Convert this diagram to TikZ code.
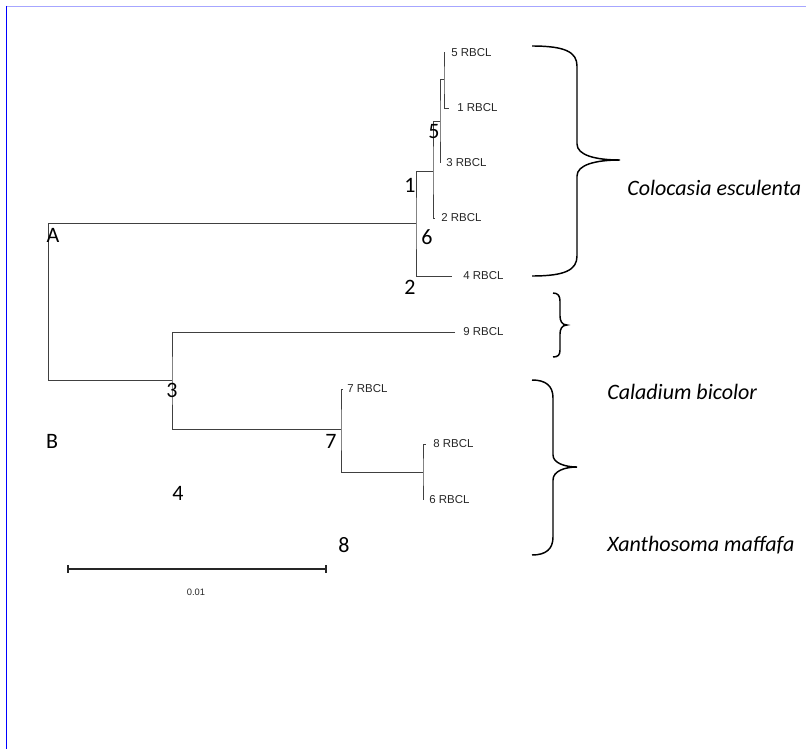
\documentclass[tikz,border=0pt]{standalone}
\usepackage{fontspec}
\setmainfont{Carlito}
\newfontfamily\arialfont{Liberation Sans}
\usetikzlibrary{positioning}
\tikzset{
    branch/.style={draw=black!75, line width=0.75pt},
    taxon/.style={anchor=west, inner sep=0pt, text=black!85, font=\arialfont\fontsize{8.6}{10}\selectfont},
    nodenum/.style={inner sep=0pt, font=\fontsize{16.5}{18}\selectfont},
    species/.style={anchor=west, inner sep=0pt, font=\itshape\fontsize{16.5}{18}\selectfont},
    bracket/.style={draw=black, line width=1.1pt},
    scalebar/.style={draw=black!85, line width=0.8pt}
}

\begin{document}
\begin{tikzpicture}[x=0.75pt, y=-0.75pt]
    \useasboundingbox (0,0) rectangle (806,749);
    % page frame
    \draw[blue!35, line width=1pt] (6,6.5) -- (806,6.5);
    \draw[blue, line width=0.9pt] (6.5,6) -- (6.5,749);

    % inner nodes
    \coordinate (cA) at (48,223);
    \coordinate (cB) at (48,380.5);
    \coordinate (n1) at (416,223);
    \coordinate (n6) at (433,171);
    \coordinate (n5) at (440,121);
    \coordinate (n4) at (444,80);
    \coordinate (n3) at (172,380.5);
    \coordinate (n7) at (341,429);
    \coordinate (n8) at (423,472);
    % tips
    \coordinate (t5) at (445,53);
    \coordinate (t1) at (449,108);
    \coordinate (t3) at (440,163);
    \coordinate (t2) at (435,218);
    \coordinate (t4) at (452,276);
    \coordinate (t9) at (455,332);
    \coordinate (t7) at (343,389);
    \coordinate (t8) at (426,444);
    \coordinate (t6) at (423,500);

    \draw[branch] (cA) -- (cB);
    \draw[branch] (cA) -- (n1);
    \draw[branch] (cB) -- (n3);
    \draw[branch] (n6) -| (n1) |- (t4);
    \draw[branch] (n5) -| (n6) |- (t2);
    \draw[branch] (n4) -| (n5) |- (t3);
    \draw[branch] (t5) -| (n4) |- (t1);
    \draw[branch] (t9) -| (n3) |- (n7);
    \draw[branch] (t7) -| (n7) |- (n8);
    \draw[branch] (t8) -| (n8) |- (t6);

    % sample labels
    \node[taxon] (l5) at (451,53) {5 RBCL};
    \node[taxon] (l1) at (457,108) {1 RBCL};
    \node[taxon] (l3) at (446,163) {3 RBCL};
    \node[taxon] (l2) at (441,218) {2 RBCL};
    \node[taxon] (l4) at (463,276) {4 RBCL};
    \node[taxon] (l9) at (463,332) {9 RBCL};
    \node[taxon] (l7) at (347,389) {7 RBCL};
    \node[taxon] (l8) at (433,444) {8 RBCL};
    \node[taxon] (l6) at (429,500) {6 RBCL};

    % node numbers
    \node[nodenum] (kA) at (53,235) {A};
    \node[nodenum] (kB) at (52,441) {B};
    \node[nodenum] (k1) at (410,185) {1};
    \node[nodenum] (k2) at (410,287) {2};
    \node[nodenum] (k3) at (172,390) {3};
    \node[nodenum] (k4) at (178,493) {4};
    \node[nodenum] (k5) at (434,132) {5};
    \node[nodenum] (k6) at (427,237) {6};
    \node[nodenum] (k7) at (331,441) {7};
    \node[nodenum] (k8) at (344,545) {8};

    % scale bar
    \coordinate (s0) at (68,569);
    \coordinate (s1) at (326,569);
    \draw[scalebar] (s0) -- (s1);
    \draw[scalebar] ([yshift=3pt]s0) -- ([yshift=-3pt]s0);
    \draw[scalebar] ([yshift=3pt]s1) -- ([yshift=-3pt]s1);
    \node[inner sep=0pt, text=black!85, font=\arialfont\fontsize{7}{8}\selectfont] (sl) at (196,592) {0.01};

    % braces
    \draw[bracket] (532,46) .. controls (565,46) and (577,52) .. (577,66)
        -- (577,144) .. controls (577,155) and (595,160) .. (620,160)
        .. controls (595,160) and (577,165) .. (577,176)
        -- (577,256) .. controls (577,270) and (565,276) .. (532,276);
    \draw[bracket] (553,293) .. controls (558,293) and (560,296) .. (560,301)
        -- (560,316) .. controls (560,321) and (562,325) .. (567,325)
        .. controls (562,325) and (560,329) .. (560,334)
        -- (560,350) .. controls (560,355) and (558,357) .. (553,357);
    \draw[bracket] (532,380) .. controls (546,380) and (553,386) .. (553,398)
        -- (553,455) .. controls (553,463) and (565,467) .. (577,467)
        .. controls (565,467) and (553,471) .. (553,480)
        -- (553,537) .. controls (553,549) and (546,555) .. (532,555);

    % species
    \node[species] (sp1) at (627,188) {Colocasia esculenta};
    \node[species] (sp2) at (607,392) {Caladium bicolor};
    \node[species] (sp3) at (607,545) {Xanthosoma maffafa};
\end{tikzpicture}
\end{document}
